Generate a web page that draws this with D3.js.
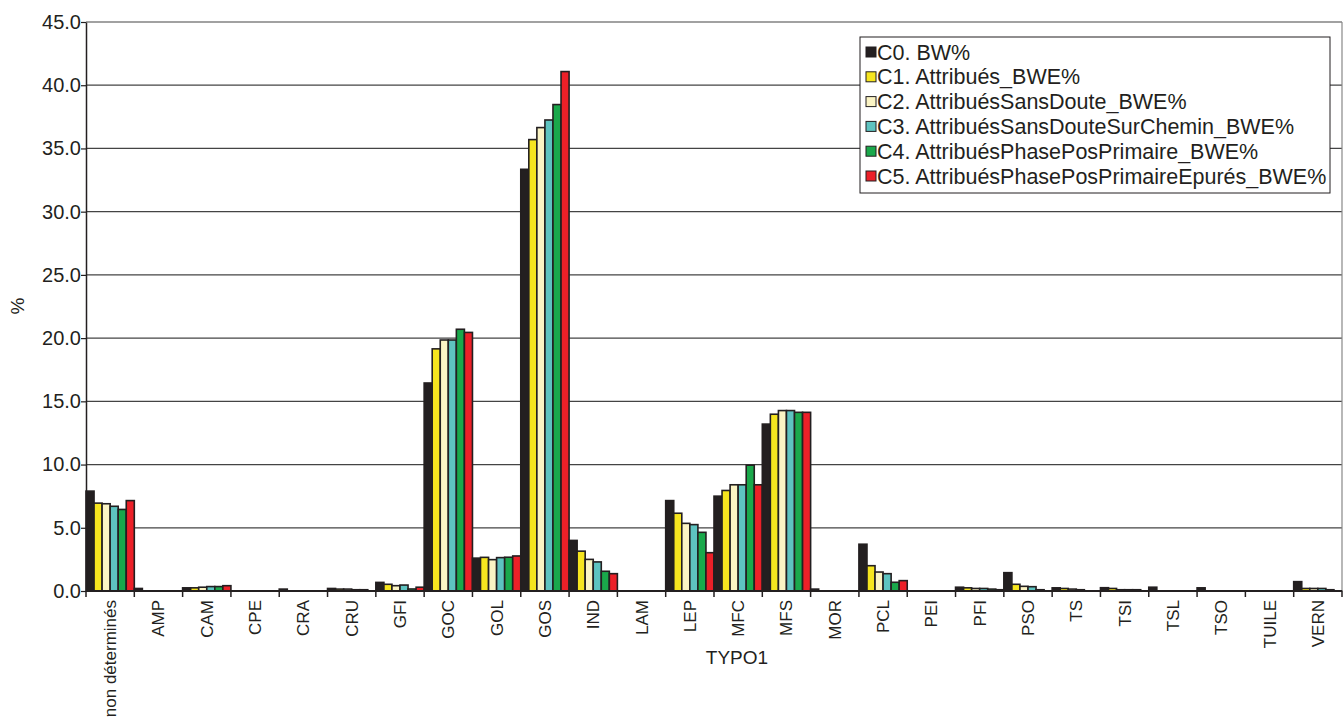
<!DOCTYPE html>
<html>
<head>
<meta charset="utf-8">
<script src="https://cdn.jsdelivr.net/npm/d3@7"></script>
<style>
  body { margin: 0; background: #fff; }
  svg { display: block; font-family: "Liberation Sans", Arial, sans-serif; }
</style>
</head>
<body>
<svg id="chart" width="1343" height="722"></svg>
<script>
// Categories (TYPO1)
var categories = ['non déterminés', 'AMP', 'CAM', 'CPE', 'CRA', 'CRU', 'GFI', 'GOC', 'GOL', 'GOS',
  'IND', 'LAM', 'LEP', 'MFC', 'MFS', 'MOR', 'PCL', 'PEI', 'PFI', 'PSO', 'TS', 'TSI', 'TSL', 'TSO', 'TUILE', 'VERN'];

var seriesNames = ['C0. BW%', 'C1. Attribués_BWE%', 'C2. AttribuésSansDoute_BWE%',
  'C3. AttribuésSansDouteSurChemin_BWE%', 'C4. AttribuésPhasePosPrimaire_BWE%',
  'C5. AttribuésPhasePosPrimaireEpurés_BWE%'];

var seriesColors = ['#231f20', '#f6e51f', '#fbf4c4', '#5ec3c0', '#1aa84b', '#ec2028'];

var c0 = [7.9, 0.2, 0.25, 0.05, 0.15, 0.2, 0.68, 16.45, 2.6, 33.35, 4.0, 0, 7.15, 7.5, 13.2, 0.15, 3.7, 0.02, 0.3, 1.45, 0.25, 0.26, 0.3, 0.25, 0, 0.74];
var c1 = [6.95, 0.05, 0.25, 0.05, 0.05, 0.15, 0.53, 19.15, 2.66, 35.7, 3.15, 0, 6.15, 7.95, 13.98, 0.05, 2.0, 0.02, 0.25, 0.53, 0.2, 0.2, 0.05, 0.05, 0, 0.2];
var c2 = [6.9, 0.05, 0.3, 0.05, 0.05, 0.15, 0.42, 19.85, 2.48, 36.65, 2.5, 0, 5.35, 8.4, 14.27, 0.05, 1.5, 0.02, 0.2, 0.37, 0.15, 0.1, 0.05, 0.05, 0, 0.2];
var c3 = [6.7, 0.05, 0.35, 0.05, 0.05, 0.1, 0.47, 19.85, 2.64, 37.25, 2.3, 0, 5.25, 8.4, 14.27, 0.05, 1.37, 0.02, 0.2, 0.34, 0.1, 0.1, 0.05, 0.05, 0, 0.2];
var c4 = [6.45, 0.05, 0.35, 0.05, 0.05, 0.1, 0.16, 20.7, 2.67, 38.47, 1.56, 0, 4.64, 9.95, 14.13, 0.05, 0.69, 0.02, 0.15, 0.1, 0.05, 0.1, 0.05, 0.05, 0, 0.1];
var c5 = [7.15, 0.05, 0.42, 0.05, 0.05, 0.05, 0.3, 20.45, 2.77, 41.08, 1.37, 0, 3.03, 8.4, 14.13, 0.05, 0.82, 0.02, 0.1, 0.05, 0.05, 0.05, 0.05, 0.05, 0, 0.05];
var seriesValues = [c0, c1, c2, c3, c4, c5];

var yTicks = [0, 5, 10, 15, 20, 25, 30, 35, 40, 45];

(function () {
  'use strict';

  var svg = d3.select('#chart');
  var margin = { left: 86, right: 1342, top: 22, bottom: 591 };

  var x = d3.scaleBand()
    .domain(categories)
    .range([margin.left, margin.right])
    .paddingInner(0)
    .paddingOuter(0);

  var xSub = d3.scaleBand()
    .domain(d3.range(seriesNames.length))
    .range([0, x.bandwidth()])
    .padding(0);

  var y = d3.scaleLinear().domain([0, 45]).range([margin.bottom, margin.top]);

  // Gridlines
  svg.append('g')
    .selectAll('line')
    .data(yTicks.filter(function (t) { return t > 0; }))
    .join('line')
    .attr('x1', margin.left)
    .attr('x2', margin.right)
    .attr('y1', function (d) { return y(d); })
    .attr('y2', function (d) { return y(d); })
    .attr('stroke', '#444')
    .attr('stroke-width', 1.2);

  // Right border
  svg.append('line')
    .attr('x1', margin.right).attr('x2', margin.right)
    .attr('y1', margin.top).attr('y2', margin.bottom)
    .attr('stroke', '#888').attr('stroke-width', 1.2);

  // Bars
  var groups = svg.append('g')
    .selectAll('g')
    .data(categories)
    .join('g')
    .attr('transform', function (d) { return 'translate(' + x(d) + ',0)'; });

  groups.selectAll('rect')
    .data(function (d, i) {
      return seriesValues.map(function (vals, s) { return { s: s, v: vals[i] }; });
    })
    .join('rect')
    .attr('x', function (d) { return xSub(d.s); })
    .attr('y', function (d) { return y(d.v); })
    .attr('width', xSub.bandwidth())
    .attr('height', function (d) { return y(0) - y(d.v); })
    .attr('fill', function (d) { return seriesColors[d.s]; })
    .attr('stroke', '#231f20')
    .attr('stroke-width', function (d) { return d.v > 0.08 ? 1.6 : 0.6; });

  // Y axis
  var yAxis = svg.append('g')
    .attr('transform', 'translate(' + margin.left + ',0)')
    .call(d3.axisLeft(y).tickValues(yTicks).tickFormat(d3.format('.1f')).tickSize(5).tickSizeOuter(0));
  yAxis.select('.domain').attr('stroke', '#231f20').attr('stroke-width', 1.5);
  yAxis.selectAll('.tick line').attr('stroke', '#231f20').attr('stroke-width', 1.2);
  yAxis.selectAll('.tick text')
    .attr('font-size', 20)
    .attr('fill', '#231f20')
    .attr('x', -5)
    .attr('font-family', '"Liberation Sans", Arial, sans-serif');

  // X axis
  var xAxis = svg.append('g')
    .attr('transform', 'translate(0,' + margin.bottom + ')');
  xAxis.append('line')
    .attr('x1', margin.left).attr('x2', margin.right)
    .attr('stroke', '#231f20').attr('stroke-width', 2);
  xAxis.selectAll('line.tk')
    .data(categories.concat(['_end']))
    .join('line')
    .attr('class', 'tk')
    .attr('x1', function (d, i) { return i < categories.length ? x(d) : margin.right; })
    .attr('x2', function (d, i) { return i < categories.length ? x(d) : margin.right; })
    .attr('y1', 0).attr('y2', 6)
    .attr('stroke', '#231f20').attr('stroke-width', 1.5);
  xAxis.selectAll('text')
    .data(categories)
    .join('text')
    .attr('transform', function (d) {
      return 'translate(' + (x(d) + x.bandwidth() / 2 + 6) + ',9) rotate(-90)';
    })
    .attr('text-anchor', 'end')
    .attr('font-size', 17)
    .attr('fill', '#231f20')
    .text(function (d) { return d; });

  // Axis titles
  svg.append('text')
    .attr('transform', 'translate(24,306) rotate(-90)')
    .attr('text-anchor', 'middle')
    .attr('font-size', 19)
    .attr('fill', '#231f20')
    .text('%');
  svg.append('text')
    .attr('x', 737).attr('y', 664)
    .attr('text-anchor', 'middle')
    .attr('font-size', 19)
    .attr('fill', '#231f20')
    .text('TYPO1');

  // Legend
  var legend = svg.append('g').attr('transform', 'translate(860,37)');
  legend.append('rect')
    .attr('width', 470).attr('height', 156)
    .attr('fill', '#fff').attr('stroke', '#231f20').attr('stroke-width', 1);
  var item = legend.selectAll('g.item')
    .data(seriesNames)
    .join('g')
    .attr('class', 'item')
    .attr('transform', function (d, i) { return 'translate(6,' + (15 + i * 24.8) + ')'; });
  item.append('rect')
    .attr('x', 0).attr('y', -5)
    .attr('width', 10).attr('height', 10)
    .attr('fill', function (d, i) { return seriesColors[i]; })
    .attr('stroke', '#231f20').attr('stroke-width', 1);
  item.append('text')
    .attr('x', 11).attr('y', 7.5)
    .attr('font-size', 21.5)
    .attr('fill', '#231f20')
    .text(function (d) { return d; });
})();
</script>
</body>
</html>
